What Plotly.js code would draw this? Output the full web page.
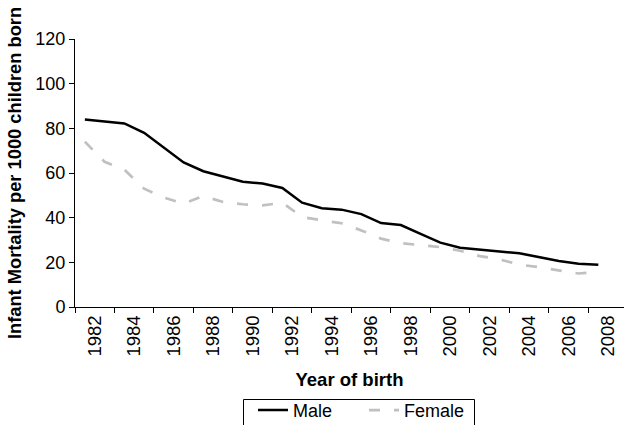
<!DOCTYPE html>
<html>
<head>
<meta charset="utf-8">
<script src="https://cdn.plot.ly/plotly-3.0.1.min.js"></script>
<style>html,body{margin:0;padding:0;background:#fff;}#chart{width:624px;height:425px;}</style>
</head>
<body>
<div id="chart"></div>
<script>
const years = [1982,1983,1984,1985,1986,1987,1988,1989,1990,1991,1992,1993,1994,1995,1996,1997,1998,1999,2000,2001,2002,2003,2004,2005,2006,2007,2008];
const male = [84.0,83.0,82.2,78.0,71.5,64.7,60.8,58.3,56.1,55.3,53.3,46.7,44.2,43.6,41.6,37.6,36.7,32.7,28.8,26.5,25.5,24.8,24.1,22.3,20.6,19.4,18.9];
const female = [74.0,65.0,61.5,53.0,49.0,46.3,49.7,47.0,46.0,45.5,46.7,40.3,38.8,37.5,34.3,30.6,28.6,27.8,26.8,25.2,22.8,21.3,19.0,17.8,16.4,15.0,15.6];
const labelYears = years.filter(y => y % 2 === 0);
const yTicks = [0,20,40,60,80,100,120];

const font = "'Liberation Sans', Arial, Helvetica, sans-serif";

const traces = [
  {x: years, y: male, name: 'Male', type: 'scatter', mode: 'lines',
   line: {color: '#000000', width: 2.5}},
  {x: years, y: female, name: 'Female', type: 'scatter', mode: 'lines',
   line: {color: '#c0c0c0', width: 2.7, dash: '11px,14px'}}
];

const layout = {
  width: 624, height: 425,
  margin: {l: 75, r: 0, t: 39, b: 118},
  paper_bgcolor: '#ffffff', plot_bgcolor: '#ffffff',
  font: {family: font, color: '#000000', size: 18},
  showlegend: true,
  legend: {orientation: 'h', xref: 'container', yref: 'container',
    x: 253 / 624, xanchor: 'left', y: 0.078, yanchor: 'top',
    entrywidth: 66, entrywidthmode: 'pixels',
    bgcolor: 'rgba(0,0,0,0)', borderwidth: 0, font: {size: 18}},
  shapes: [{type: 'rect', xref: 'paper', yref: 'paper',
    x0: (243.5 - 75) / 549, x1: (474.5 - 75) / 549,
    y0: (307 - 399.5) / 268, y1: (307 - 440) / 268,
    line: {color: '#000000', width: 1}, fillcolor: 'rgba(0,0,0,0)', layer: 'above'}],
  xaxis: {
    range: [1981.5, 2009.3],
    showline: true, linecolor: '#000000', linewidth: 1,
    showgrid: false, zeroline: false,
    tickmode: 'array',
    tickvals: labelYears.map(y => y + 0.5),
    ticktext: labelYears.map(String),
    ticks: '', tickangle: -90,
    tickfont: {size: 18.5, color: '#000000'},
    minor: {tickmode: 'linear', tick0: years[0] - 0.5, dtick: 2, ticks: 'outside', ticklen: 5, tickwidth: 1, tickcolor: '#000000', showgrid: false},
    title: {text: '<b>Year of birth</b>', font: {size: 18.5}, standoff: 17}
  },
  yaxis: {
    range: [0, 120],
    showline: true, linecolor: '#000000', linewidth: 1,
    showgrid: false, zeroline: false,
    tickmode: 'array', tickvals: yTicks,
    ticks: 'outside', ticklen: 5, tickwidth: 1, tickcolor: '#000000',
    tickfont: {size: 18, color: '#000000'},
    title: {text: '<b>Infant Mortality per 1000 children born</b>', font: {size: 18.3}, standoff: 8}
  }
};

Plotly.newPlot('chart', traces, layout, {displayModeBar: false, staticPlot: true});
</script>
</body>
</html>
